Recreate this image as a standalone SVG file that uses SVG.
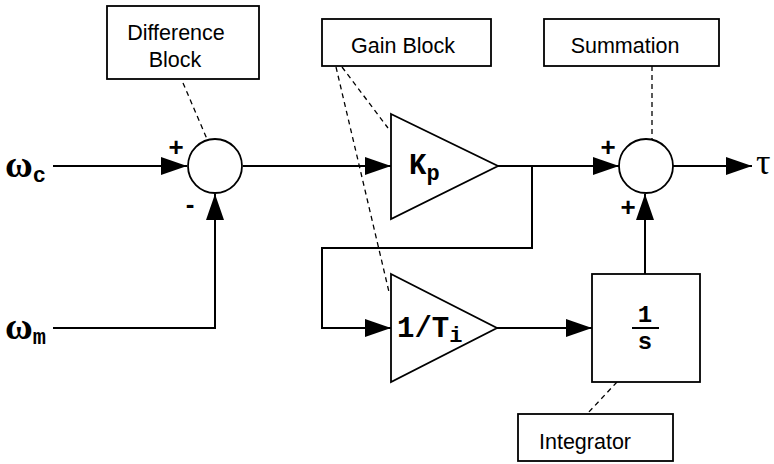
<svg xmlns="http://www.w3.org/2000/svg" width="774" height="464" viewBox="0 0 774 464">
<defs>
<marker id="arr" markerUnits="userSpaceOnUse" markerWidth="26" markerHeight="18" refX="26" refY="9" orient="auto">
<path d="M0,0 L26,9 L0,18 Z" fill="#000"/>
</marker>
<style>
.ln{fill:none;stroke:#000;stroke-width:2}
.ds{fill:none;stroke:#000;stroke-width:1.3;stroke-dasharray:5,4}
.bx{fill:#fff;stroke:#000;stroke-width:1.8}
.lb{font-family:"Liberation Sans",Arial,sans-serif;font-size:21.5px;fill:#000;text-anchor:middle}
.mo{font-family:"Liberation Mono","Courier New",monospace;font-weight:bold;fill:#000}
.gr{font-family:"Liberation Serif","Times New Roman",serif;fill:#000}
.sg{font-family:"Liberation Sans",Arial,sans-serif;font-weight:bold;font-size:26px;fill:#000;text-anchor:middle}
</style>
</defs>
<rect width="774" height="464" fill="#fff"/>

<g id="connectors">
<line class="ln" x1="53" y1="166" x2="187" y2="166" marker-end="url(#arr)"/>
<line class="ln" x1="243" y1="166" x2="391" y2="166" marker-end="url(#arr)"/>
<line class="ln" x1="498" y1="166" x2="619" y2="166" marker-end="url(#arr)"/>
<polyline class="ln" points="532,166 532,248 322,248 322,328 391,328" marker-end="url(#arr)"/>
<line class="ln" x1="497" y1="328" x2="592" y2="328" marker-end="url(#arr)"/>
<line class="ln" x1="645" y1="274" x2="645" y2="194" marker-end="url(#arr)"/>
<line class="ln" x1="673" y1="166" x2="752" y2="166" marker-end="url(#arr)"/>
<polyline class="ln" points="53,328 215,328 215,194" marker-end="url(#arr)"/>
<line class="ds" x1="183" y1="83" x2="207" y2="139"/>
<line class="ds" x1="342" y1="67" x2="388" y2="128"/>
<line class="ds" x1="336" y1="67" x2="389" y2="292"/>
<line class="ds" x1="652" y1="66" x2="652" y2="139"/>
<line class="ds" x1="617" y1="382" x2="587" y2="414"/>
</g>

<g id="input-wc">
<text class="gr" x="5" y="177" font-size="38" font-weight="bold">ω<tspan class="mo" font-size="22" dy="5">c</tspan></text>
</g>
<g id="input-wm">
<text class="gr" x="5" y="339" font-size="38" font-weight="bold">ω<tspan class="mo" font-size="22" dy="5">m</tspan></text>
</g>

<g id="difference-sum">
<circle class="bx" cx="215" cy="166" r="27"/>
<text class="sg" x="176" y="156">+</text>
<text class="sg" x="190" y="213">-</text>
</g>

<g id="gain-kp">
<polygon class="bx" points="391,114 498,166 391,219"/>
<text class="mo" x="409" y="174" font-size="29">K<tspan font-size="22" dy="6">p</tspan></text>
</g>

<g id="gain-ti">
<polygon class="bx" points="391,274 497,328 391,382"/>
<text class="mo" x="397" y="337" font-size="29">1/T<tspan font-size="22" dy="5">i</tspan></text>
</g>

<g id="integrator-block">
<rect class="bx" x="592" y="274" width="108" height="108"/>
<text class="mo" x="645" y="322" font-size="24" text-anchor="middle">1</text>
<line class="ln" x1="632" y1="328" x2="659" y2="328"/>
<text class="mo" x="645" y="349" font-size="24" text-anchor="middle">s</text>
</g>

<g id="summation-sum">
<circle class="bx" cx="646" cy="166" r="27"/>
<text class="sg" x="608" y="156">+</text>
<text class="sg" x="628" y="216">+</text>
</g>

<g id="output-tau">
<text class="gr" x="756" y="174" font-size="36">τ</text>
</g>

<g id="label-difference">
<rect class="bx" x="107" y="6" width="152" height="73"/>
<text class="lb" x="176" y="40">Difference</text>
<text class="lb" x="175" y="67">Block</text>
</g>
<g id="label-gain">
<rect class="bx" x="322" y="19" width="169" height="47"/>
<text class="lb" x="403" y="53">Gain Block</text>
</g>
<g id="label-summation">
<rect class="bx" x="544" y="19" width="175" height="47"/>
<text class="lb" x="625" y="53">Summation</text>
</g>
<g id="label-integrator">
<rect class="bx" x="518" y="414" width="155" height="47"/>
<text class="lb" x="585" y="449">Integrator</text>
</g>
</svg>
